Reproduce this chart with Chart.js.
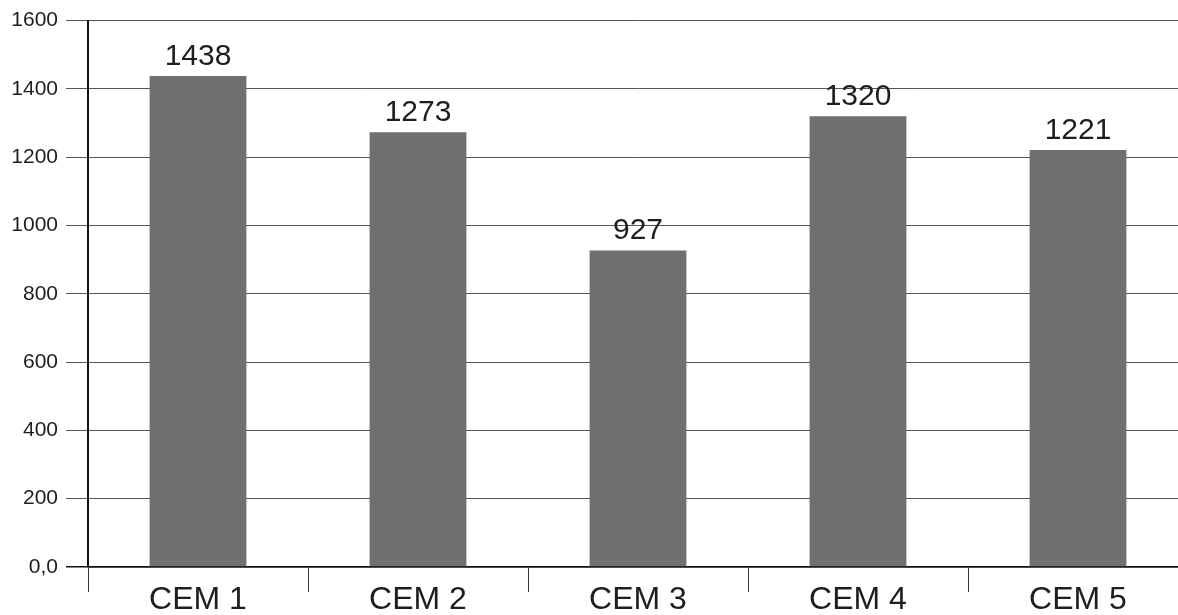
<!DOCTYPE html>
<html>
<head>
<meta charset="utf-8">
<script src="https://cdn.jsdelivr.net/npm/chart.js@4/dist/chart.umd.min.js"></script>
<style>
  html, body { margin: 0; padding: 0; background: #fff; overflow: hidden; }
  #wrap { position: relative; width: 1190px; height: 615px; }
</style>
</head>
<body>
<div id="wrap"><canvas id="c"></canvas></div>
<script>
// Cement types and their measured values
const categories = ['CEM 1', 'CEM 2', 'CEM 3', 'CEM 4', 'CEM 5'];
const values = [1438, 1273, 927, 1320, 1221];
// Value axis
const yMin = 0;
const yMax = 1600;
const yStep = 200;
const zeroLabel = '0,0';

const FONT = '"Liberation Sans", Arial, Helvetica, sans-serif';

// Writes each bar's value just above it
const valueLabels = {
  id: 'valueLabels',
  afterDatasetsDraw(chart) {
    const ctx = chart.ctx;
    const meta = chart.getDatasetMeta(0);
    ctx.save();
    ctx.font = '30px ' + FONT;
    ctx.fillStyle = '#1e1e1e';
    ctx.textAlign = 'center';
    ctx.textBaseline = 'alphabetic';
    meta.data.forEach((bar, i) => {
      ctx.fillText(String(values[i]), bar.x, bar.y - 11);
    });
    ctx.restore();
  }
};

new Chart(document.getElementById('c'), {
  type: 'bar',
  data: {
    labels: categories,
    datasets: [{
      data: values,
      backgroundColor: '#6f7072',
      borderWidth: 0,
      categoryPercentage: 1,
      barPercentage: 0.44
    }]
  },
  options: {
    responsive: true,
    maintainAspectRatio: false,
    animation: false,
    events: [],
    layout: { padding: { top: 17, right: 2, left: 0, bottom: 0 } },
    plugins: {
      legend: { display: false },
      tooltip: { enabled: false }
    },
    scales: {
      x: {
        offset: true,
        border: { display: true, color: '#111', width: 1.5 },
        grid: {
          display: true,
          offset: true,
          drawOnChartArea: false,
          drawTicks: true,
          tickLength: 25,
          color: '#333',
          lineWidth: 1
        },
        ticks: {
          color: '#1e1e1e',
          font: { family: FONT, size: 32 },
          padding: -11,
          maxRotation: 0,
          autoSkip: false
        },
        afterFit(scale) { scale.height = 48; }
      },
      y: {
        min: yMin,
        max: yMax,
        border: { display: true, color: '#111', width: 2 },
        grid: {
          drawTicks: true,
          tickLength: 22,
          color: (c) => (c.tick && c.tick.value === 0 ? '#111' : '#555'),
          lineWidth: (c) => (c.tick && c.tick.value === 0 ? 1.5 : 1)
        },
        ticks: {
          stepSize: yStep,
          color: '#1e1e1e',
          font: { family: FONT, size: 21 },
          padding: 8,
          callback: (v) => (v === 0 ? zeroLabel : String(v))
        },
        afterFit(scale) { scale.width = 88; }
      }
    }
  },
  plugins: [valueLabels]
});
</script>
</body>
</html>
